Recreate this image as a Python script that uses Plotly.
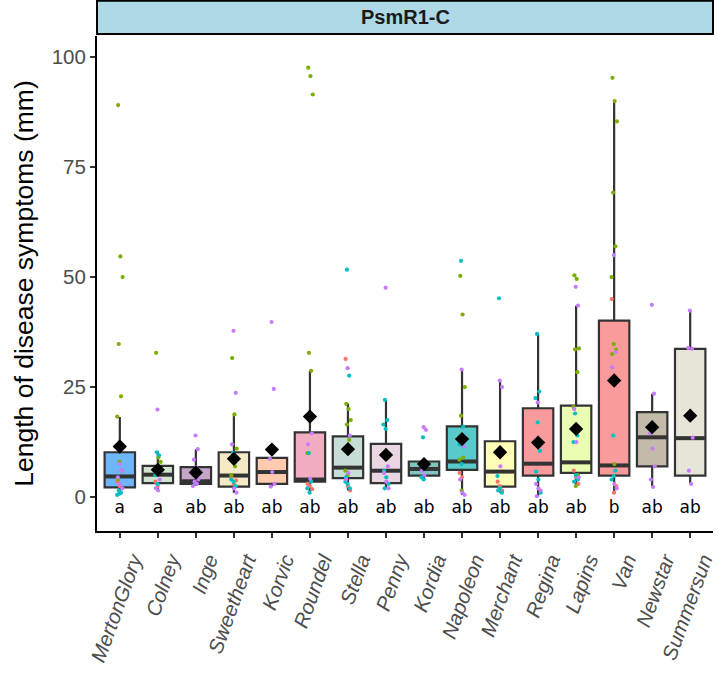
import plotly.graph_objects as go

cultivars = ["MertonGlory", "Colney", "Inge", "Sweetheart", "Korvic", "Roundel", "Stella", "Penny",
             "Kordia", "Napoleon", "Merchant", "Regina", "Lapins", "Van", "Newstar", "Summersun"]
letters = ["a", "a", "ab", "ab", "ab", "ab", "ab", "ab", "ab", "ab", "ab", "ab", "ab", "b", "ab", "ab"]

q1 = [2.2, 3.2, 3.0, 2.4, 3.0, 3.5, 4.3, 3.2, 4.9, 6.2, 2.4, 4.9, 5.5, 4.9, 7.0, 4.9]
median = [4.7, 5.1, 3.6, 4.9, 5.7, 4.0, 6.7, 6.0, 6.4, 8.1, 5.8, 7.6, 7.9, 7.2, 13.6, 13.4]
q3 = [10.2, 7.1, 6.8, 10.2, 8.9, 14.7, 13.8, 12.1, 8.1, 16.1, 12.7, 20.2, 20.8, 40.1, 19.3, 33.7]
lower = [0.5, 1.5, 2.5, 1.0, 2.4, 1.0, 1.5, 2.0, 4.0, 0.5, 1.0, 0.2, 2.5, 1.1, 2.3, 3.0]
upper = [18.2, 10.4, 10.9, 18.8, 8.9, 28.7, 21.2, 22.1, 8.1, 29.0, 26.5, 37.1, 43.5, 90.0, 23.5, 42.4]
means = [11.5, 6.2, 5.6, 8.7, 10.8, 18.3, 10.9, 9.6, 7.5, 13.2, 10.2, 12.4, 15.5, 26.5, 15.9, 18.5]

box_colors = ["#6EB5FA", "#D1E4CF", "#C6A5C9", "#F5EAC5", "#FFCBAE", "#F2AEC0", "#C7DDDA", "#EAD5E3",
              "#7FC6C3", "#59CACB", "#FFFCB7", "#F99B9C", "#EAFDB3", "#F99B9B", "#C3BBAA", "#E7E4D8"]

# individual observations per cultivar, grouped by colour group
points = {
    "MertonGlory": {"g2": [89.1, 54.7, 50.0, 34.8, 22.9, 18.3, 8, 6, 4], "g4": [7.5, 6, 4.5, 3, 2],
                    "g1": [3.5, 2.5], "g3": [1.5, 1.0, 0.5, 0.8]},
    "Colney": {"g2": [32.8, 9, 8, 6.5], "g4": [19.9, 4, 2, 1.5], "g3": [10.2, 9.5, 5, 3], "g1": [3.5, 2.5]},
    "Inge": {"g4": [14.0, 10.9, 8.5, 6.8, 4, 3.5, 3, 2.5], "g3": [3.2]},
    "Sweetheart": {"g4": [37.8, 23.7, 12, 2, 1], "g2": [31.6, 18.8, 11, 9, 7, 5],
                   "g3": [10, 8, 4, 3.5, 2.5], "g1": [4.5, 3, 3.8]},
    "Korvic": {"g4": [39.8, 24.6, 8.7, 5.7, 3, 2.4]},
    "Roundel": {"g2": [97.6, 95.7, 91.5, 32.8, 28.7, 10], "g4": [19, 14.5, 12, 4.2],
                "g3": [10, 3.5, 2, 1], "g1": [3, 2.5, 1.8]},
    "Stella": {"g3": [51.7, 27.6, 3.5, 3, 2, 4.5], "g1": [31.4, 2.5, 1.5], "g4": [29.3, 14, 4, 5.5],
               "g2": [21.2, 20, 17.5, 16.5, 13, 6, 5]},
    "Penny": {"g4": [47.6, 7, 5.5, 3.5, 2], "g3": [22.1, 17.5, 16.5, 15.5, 9, 6, 4.5, 3, 2]},
    "Kordia": {"g4": [15.9, 15.3, 6, 5], "g3": [13.6, 7.5, 4.5, 4]},
    "Napoleon": {"g3": [53.7, 16, 12, 7.5], "g2": [50.3, 41.5, 25, 18.5, 9, 8.5, 1.5],
                 "g4": [29.0, 11.5, 4, 1, 0.5], "g1": [5.5, 4.5]},
    "Merchant": {"g3": [45.2, 10, 4.8, 2, 1, 1.5], "g4": [26.5, 25, 10.5, 7], "g1": [3.5, 2.5, 1.5]},
    "Regina": {"g3": [37.1, 24, 22.5, 17, 10.5, 5.8, 4, 1], "g4": [21.5, 12, 3, 2, 1.5, 0.2]},
    "Lapins": {"g2": [50.4, 49.6, 33.8, 33.6, 28.4, 20.5, 2.5, 5], "g4": [47.8, 43.5, 20, 12.5, 4.5],
               "g3": [19, 14, 12.5, 5, 4, 3.5], "g1": [6, 4.5, 3]},
    "Van": {"g2": [95.3, 90.0, 85.4, 69.2, 57, 50, 34.8, 33.5, 32.5, 7.5], "g4": [55, 33, 29.5, 3, 2],
            "g1": [45, 1, 2.5], "g3": [14, 6, 4, 4.8]},
    "Newstar": {"g4": [43.7, 23.5, 14.5, 11, 7, 4, 2.3]},
    "Summersun": {"g4": [42.4, 33.7, 33.9, 18, 13.5, 6, 3]},
}
group_colors = {"g1": "#F8766D", "g2": "#7CAE00", "g3": "#00BFC4", "g4": "#C77CFF"}

BOX_W = 0.8
fig = go.Figure()

for i, c in enumerate(cultivars):
    fig.add_trace(go.Box(
        x=[i], q1=[q1[i]], median=[median[i]], q3=[q3[i]],
        lowerfence=[lower[i]], upperfence=[upper[i]],
        width=BOX_W, whiskerwidth=0, boxpoints=False,
        fillcolor=box_colors[i], line=dict(color="#333333", width=2.2),
        showlegend=False, hoverinfo="skip"))

# thick median lines (ggplot style)
mx, my = [], []
for i, m in enumerate(median):
    mx += [i - BOX_W / 2 + 0.02, i + BOX_W / 2 - 0.02, None]
    my += [m, m, None]
fig.add_trace(go.Scatter(x=mx, y=my, mode="lines", line=dict(color="#333333", width=4),
                         showlegend=False, hoverinfo="skip"))

for g, col in group_colors.items():
    xs, ys = [], []
    for i, c in enumerate(cultivars):
        vals = points[c].get(g, [])
        for k, v in enumerate(vals):
            n = k + 3 * int(g[1])
            xs.append(i + (((n * 0.37) % 1) - 0.5) * 0.16)
            ys.append(v)
    fig.add_trace(go.Scatter(x=xs, y=ys, mode="markers",
                             marker=dict(color=col, size=4.2, line=dict(width=0)),
                             showlegend=False))

fig.add_trace(go.Scatter(x=list(range(len(cultivars))), y=means, mode="markers",
                         marker=dict(symbol="diamond", color="black", size=11, line=dict(width=0)),
                         showlegend=False))

fig.add_trace(go.Scatter(x=list(range(len(cultivars))), y=[-2.7] * len(cultivars), mode="text",
                         text=letters, textposition="middle center",
                         textfont=dict(family="DejaVu Sans", size=17, color="black"),
                         showlegend=False))

# facet strip
fig.add_shape(type="rect", xref="paper", yref="paper", x0=0.0, x1=1.0, y0=1.004, y1=1.071,
              fillcolor="#ADD8E6", line=dict(color="black", width=2))
fig.add_annotation(xref="paper", yref="paper", x=0.5, y=1.0375, text="<b>PsmR1-C</b>",
                   showarrow=False, font=dict(family="Liberation Sans", size=20, color="#1A1A1A"),
                   xanchor="center", yanchor="middle")

fig.update_layout(
    width=718, height=677,
    margin=dict(l=97, r=2, t=36, b=146),
    paper_bgcolor="white", plot_bgcolor="white",
    font=dict(family="Liberation Sans"),
    showlegend=False,
)
fig.update_xaxes(
    range=[-0.6, 15.6], tickmode="array", tickvals=list(range(len(cultivars))), ticktext=cultivars,
    tickangle=-70, tickfont=dict(family="Liberation Sans", size=20.5, color="#4D4D4D", style="italic"),
    ticklabelshift=13, ticklabelstandoff=2, ticklabeloverflow="allow",
    showline=True, linecolor="black", linewidth=2, ticks="outside", ticklen=5, tickcolor="#333333",
    tickwidth=1.5, showgrid=False, zeroline=False,
)
fig.update_yaxes(
    range=[-7.7, 104.8], tickvals=[0, 25, 50, 75, 100],
    tickfont=dict(family="Liberation Sans", size=20.5, color="#4D4D4D"),
    title=dict(text="Length of disease symptoms (mm)", font=dict(family="Liberation Sans", size=26.5, color="black"),
               standoff=10),
    showline=True, linecolor="black", linewidth=2, ticks="outside", ticklen=5, tickcolor="#333333",
    tickwidth=1.5, showgrid=False, zeroline=False,
)

fig.write_html("out.html")
